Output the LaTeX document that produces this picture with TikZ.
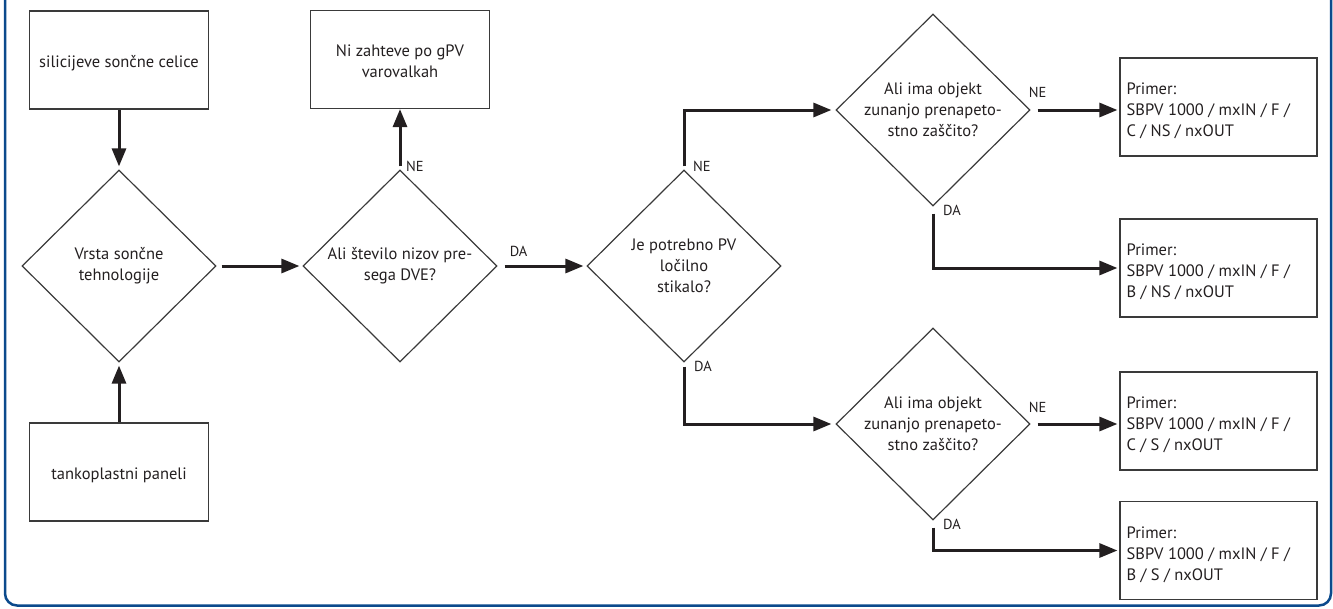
\documentclass[tikz,border=0pt]{standalone}
\usepackage{fontspec}
\setmainfont{PT Sans}
\usetikzlibrary{shapes.geometric,arrows.meta}
\definecolor{frameblue}{HTML}{0B4A8C}
\definecolor{ink}{HTML}{231F20}
\definecolor{edgegray}{HTML}{3A3A3A}
\begin{document}
\begin{tikzpicture}[x=1pt,y=-1pt,
  txt/.style={font=\fontsize{16.5}{21}\selectfont, text=ink, inner sep=0pt},
  box/.style={draw=edgegray, line width=1.2pt, minimum width=179pt, minimum height=98pt, inner sep=0pt},
  res/.style={draw=edgegray, line width=1.2pt, minimum width=197pt, minimum height=98pt, inner sep=0pt},
  dec/.style={txt, diamond, draw=edgegray, line width=1.2pt, minimum width=194pt, minimum height=192pt, inner sep=0pt, align=center},
  arr/.style={draw=ink, line width=3pt, -{Triangle[length=18pt,width=14pt]}},
  lab/.style={font=\fontsize{14.5}{14.5}\selectfont, text=ink, inner sep=0pt}]
\useasboundingbox (0,0) rectangle (1333,608);
\draw[frameblue, line width=2.5pt, rounded corners=12pt] (5,-5) -- (5,605.5) -- (1331,605.5) -- (1331,-5);

\node[box] (sil) at (119,60) {};
\node[txt, align=center] (silt) at ([yshift=-3pt]sil.center) {silicijeve sončne celice};
\node[box] (tank) at (119,472) {};
\node[txt, align=center] (tankt) at ([yshift=-3pt]tank.center) {tankoplastni paneli};
\node[box] (gpv) at (400,59.5) {};
\node[txt, align=center] (gpvt) at ([yshift=-2pt]gpv.center) {Ni zahteve po gPV\\varovalkah};

\node[dec] (d1) at (119,266) {Vrsta sončne\\tehnologije};
\node[dec] (d2) at (400,266) {Ali število nizov pre-\\sega DVE?};
\node[dec] (d3) at (684,266) {Je potrebno PV\\ločilno\\stikalo?};
\node[dec] (d4) at (933,110) {Ali ima objekt\\zunanjo prenapeto-\\stno zaščito?};
\node[dec] (d5) at (933,424) {Ali ima objekt\\zunanjo prenapeto-\\stno zaščito?};

\node[res] (r1) at (1218.5,107) {};
\node[txt, align=left, anchor=west] (r1t) at ([xshift=7pt,yshift=-4pt]r1.west) {Primer:\\SBPV 1000 / mxIN / F /\\C / NS / nxOUT};
\node[res] (r2) at (1218.5,268) {};
\node[txt, align=left, anchor=west] (r2t) at ([xshift=7pt,yshift=-4pt]r2.west) {Primer:\\SBPV 1000 / mxIN / F /\\B / NS / nxOUT};
\node[res] (r3) at (1218.5,421) {};
\node[txt, align=left, anchor=west] (r3t) at ([xshift=7pt,yshift=-4pt]r3.west) {Primer:\\SBPV 1000 / mxIN / F /\\C / S / nxOUT};
\node[res] (r4) at (1218.5,550.5) {};
\node[txt, align=left, anchor=west] (r4t) at ([xshift=7pt,yshift=-4pt]r4.west) {Primer:\\SBPV 1000 / mxIN / F /\\B / S / nxOUT};

\draw[arr, shorten >=3pt] (sil.south) -- (d1.north);
\draw[arr, shorten >=3pt] (tank.north) -- (d1.south);
\draw[arr, shorten <=5pt, shorten >=3pt] (d1.east) -- (d2.west);
\draw[arr, shorten <=3pt] (d2.north) -- (gpv.south);
\draw[arr, shorten <=7pt, shorten >=3pt] (d2.east) -- (d3.west);
\draw[arr, shorten <=3pt, shorten >=4pt] (d3.north) |- (d4.west);
\draw[arr, shorten <=4pt, shorten >=4pt] (d3.south) |- (d5.west);
\draw[arr, shorten <=7pt, shorten >=2pt] (d4.east) -- (d4.east -| r1.west);
\draw[arr, shorten <=7pt, shorten >=2pt] (d4.south) |- (r2.west);
\draw[arr, shorten <=7pt, shorten >=2pt] (d5.east) -- (d5.east -| r3.west);
\draw[arr, shorten <=7pt, shorten >=2pt] (d5.south) |- (r4.west);

\node[lab, anchor=west] (ne2) at ([xshift=6pt,yshift=3pt]d2.north) {NE};
\node[lab, anchor=west] (da2) at ([xshift=12pt,yshift=15pt]d2.east) {DA};
\node[lab, anchor=west] (ne3) at ([xshift=9pt,yshift=3pt]d3.north) {NE};
\node[lab, anchor=west] (da3) at ([xshift=10pt,yshift=-4pt]d3.south) {DA};
\node[lab] (ne4) at ([xshift=7pt,yshift=18pt]d4.east) {NE};
\node[lab, anchor=west] (da4) at ([xshift=10pt,yshift=-4pt]d4.south) {DA};
\node[lab] (ne5) at ([xshift=7pt,yshift=17pt]d5.east) {NE};
\node[lab, anchor=west] (da5) at ([xshift=10pt,yshift=-4pt]d5.south) {DA};
\end{tikzpicture}
\end{document}
